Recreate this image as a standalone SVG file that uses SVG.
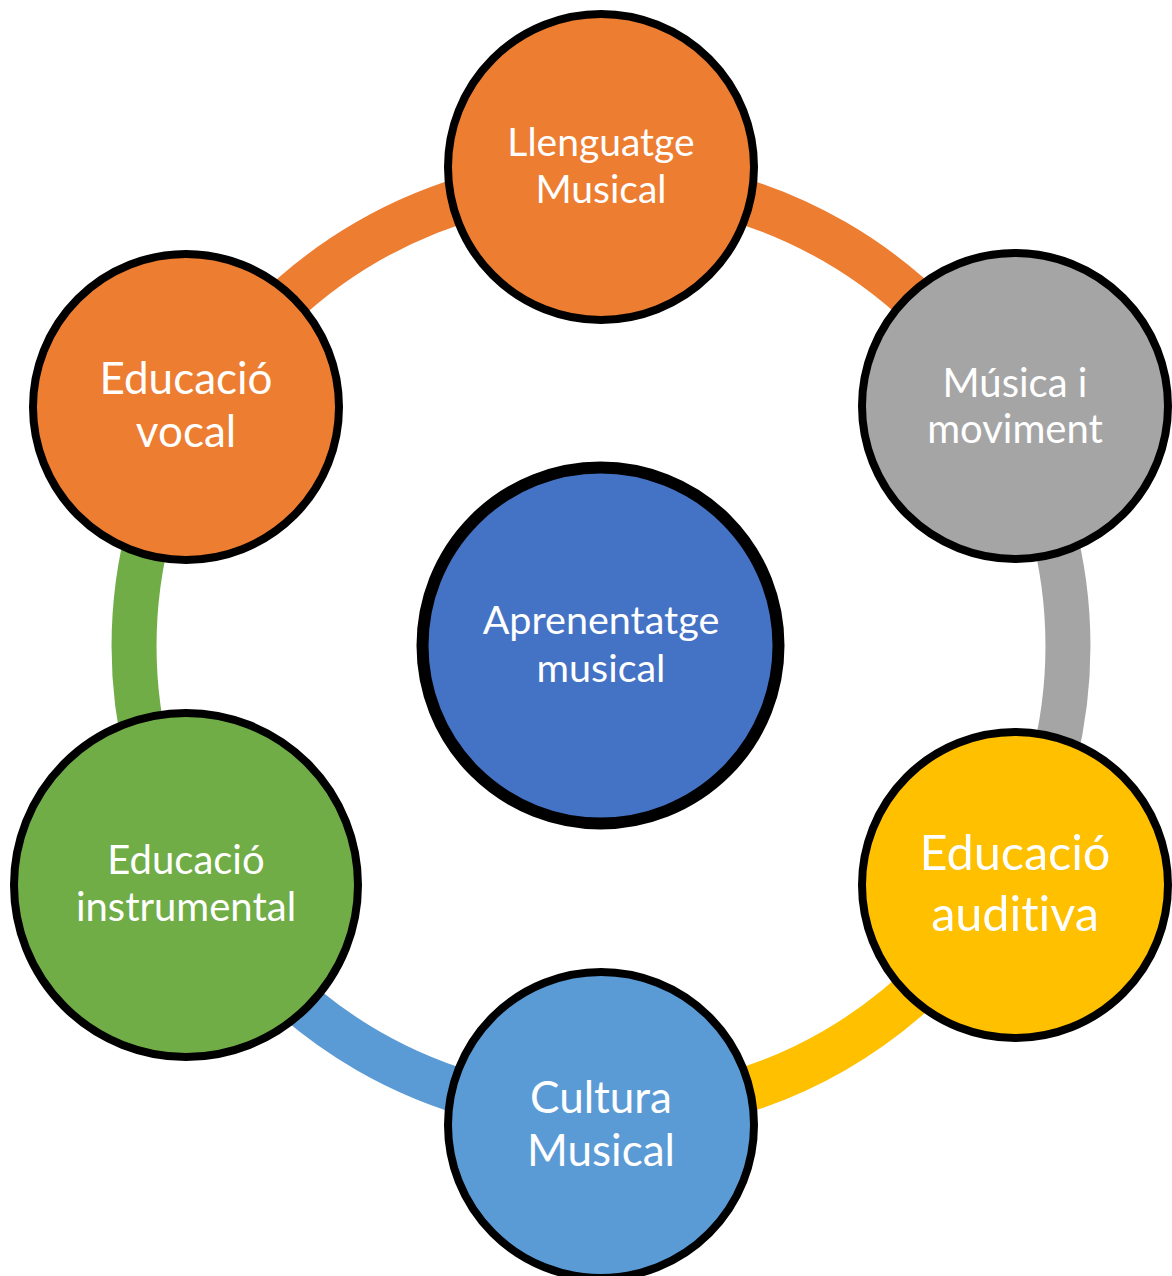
<svg xmlns="http://www.w3.org/2000/svg" width="1172" height="1276" viewBox="0 0 1172 1276">
<style>
.arc{fill:none;stroke-width:45;stroke-linecap:butt}
.node{stroke:#000;stroke-width:8}
.lbl{font-family:Lato,"Open Sans","Liberation Sans",sans-serif;fill:#fff;text-anchor:middle;font-variant-ligatures:none;font-feature-settings:"liga" 0,"clig" 0}
</style>
<rect width="1172" height="1276" fill="#fff"/>
<g id="connectors">
<path class="arc" stroke="#ED7D31" d="M601,179 A467,467 0 0 1 1005.4,412.5"/>
<path class="arc" stroke="#A5A5A5" d="M1005.4,412.5 A467,467 0 0 1 1005.4,879.5"/>
<path class="arc" stroke="#FFC000" d="M1005.4,879.5 A467,467 0 0 1 601,1113"/>
<path class="arc" stroke="#5B9BD5" d="M601,1113 A467,467 0 0 1 196.6,879.5"/>
<path class="arc" stroke="#70AD47" d="M196.6,879.5 A467,467 0 0 1 196.6,412.5"/>
<path class="arc" stroke="#ED7D31" d="M196.6,412.5 A467,467 0 0 1 601,179"/>
</g>
<g id="center">
<circle cx="600.5" cy="645.5" r="178" fill="#4472C4" stroke="#000" stroke-width="12"/>
<text class="lbl" font-size="39.5" x="601" y="634">Aprenentatge</text>
<text class="lbl" font-size="39.5" x="601" y="682">musical</text>
</g>
<g id="llenguatge">
<circle class="node" cx="601" cy="167" r="153" fill="#ED7D31"/>
<text class="lbl" font-size="39" x="601" y="156">Llenguatge</text>
<text class="lbl" font-size="39" x="601" y="203">Musical</text>
</g>
<g id="musica">
<circle class="node" cx="1015" cy="406" r="153" fill="#A5A5A5"/>
<text class="lbl" font-size="40" x="1015" y="397">Música i</text>
<text class="lbl" font-size="40" x="1015" y="443">moviment</text>
</g>
<g id="auditiva">
<circle class="node" cx="1015" cy="885" r="153" fill="#FFC000"/>
<text class="lbl" font-size="48.5" x="1015" y="870">Educació</text>
<text class="lbl" font-size="48.5" x="1015" y="931">auditiva</text>
</g>
<g id="cultura">
<circle class="node" cx="601" cy="1125" r="153" fill="#5B9BD5"/>
<text class="lbl" font-size="44" x="601" y="1113">Cultura</text>
<text class="lbl" font-size="44" x="601" y="1166">Musical</text>
</g>
<g id="instrumental">
<circle class="node" cx="186" cy="885" r="172" fill="#70AD47"/>
<text class="lbl" font-size="40" x="186" y="874">Educació</text>
<text class="lbl" font-size="40" x="186" y="921">instrumental</text>
</g>
<g id="vocal">
<circle class="node" cx="186" cy="407" r="153" fill="#ED7D31"/>
<text class="lbl" font-size="44" x="186" y="394">Educació</text>
<text class="lbl" font-size="44" x="186" y="447">vocal</text>
</g>
</svg>
